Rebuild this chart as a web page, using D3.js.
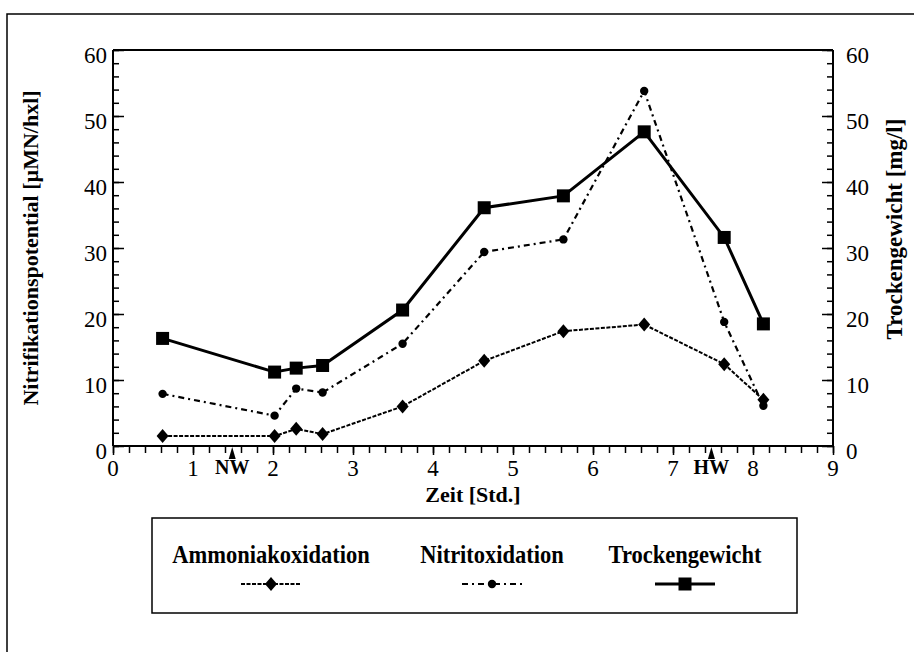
<!DOCTYPE html>
<html>
<head>
<meta charset="utf-8">
<script src="https://cdn.jsdelivr.net/npm/d3@7"></script>
<style>
  body { margin: 0; background: #fff; }
  svg { display: block; }
</style>
</head>
<body>
<svg id="chart" width="914" height="652"></svg>
<script>
// data
const zeit = [0.62, 2.02, 2.29, 2.62, 3.62, 4.64, 5.63, 6.64, 7.64, 8.13];
const ammoniak = [1.5, 1.5, 2.6, 1.8, 6.0, 12.9, 17.4, 18.4, 12.4, 7.0];
const nitrit = [7.9, 4.6, 8.7, 8.1, 15.5, 29.4, 31.3, 53.8, 18.8, 6.1];
const trocken = [16.3, 11.2, 11.8, 12.2, 20.6, 36.1, 37.9, 47.6, 31.6, 18.5];
const xTicks = [0, 1, 2, 3, 4, 5, 6, 7, 8, 9];
const yTicks = [0, 10, 20, 30, 40, 50, 60];
const marks = [{label: "NW", x: 1.49}, {label: "HW", x: 7.48}];
const seriesNames = ["Ammoniakoxidation", "Nitritoxidation", "Trockengewicht"];

const font = "'Liberation Serif', 'Times New Roman', serif";
const svg = d3.select("#chart");
const pLeft = 113, pRight = 833, pTop = 50, pBottom = 446;

let x = d3.scaleLinear().domain([0, 9]).range([pLeft, pRight]);
let yL = d3.scaleLinear().domain([0, 60]).range([pBottom, pTop]);
let yR = d3.scaleLinear().domain([0, 60]).range([pBottom, pTop]);

// outer frame
svg.append("path")
  .attr("d", "M7,652 L7,14 L914,14")
  .attr("fill", "none")
  .attr("stroke", "#000")
  .attr("stroke-width", 1.5);

// plot box top line
svg.append("line")
  .attr("x1", pLeft).attr("x2", pRight)
  .attr("y1", pTop).attr("y2", pTop)
  .attr("stroke", "#000").attr("stroke-width", 2);

// left axis, ticks inward
let gL = svg.append("g").attr("transform", "translate(" + pLeft + ",0)");
gL.call(d3.axisRight(yL).tickValues(d3.range(0, 61, 2)).tickSize(6).tickFormat(""))
  .call(g => g.select(".domain").remove());
gL.append("g").call(d3.axisRight(yL).tickValues(yTicks).tickSize(11).tickFormat(""))
  .call(g => g.select(".domain").remove());
gL.selectAll("line").attr("stroke-width", 1.5);
gL.append("line").attr("y1", pTop).attr("y2", pBottom).attr("stroke", "#000").attr("stroke-width", 2);
svg.append("g").selectAll("text")
  .data(yTicks)
  .enter()
  .append("text")
    .attr("x", pLeft - 6)
    .attr("y", d => yL(d) + 5)
    .attr("dy", "0.35em")
    .text(d => d)
    .style("text-anchor", "end")
    .style("font-size", 23)
    .style("font-family", font);

// right axis, ticks inward
let gR = svg.append("g").attr("transform", "translate(" + pRight + ",0)");
gR.call(d3.axisLeft(yR).tickValues(d3.range(0, 61, 2)).tickSize(6).tickFormat(""))
  .call(g => g.select(".domain").remove());
gR.append("g").call(d3.axisLeft(yR).tickValues(yTicks).tickSize(11).tickFormat(""))
  .call(g => g.select(".domain").remove());
gR.selectAll("line").attr("stroke-width", 1.5);
gR.append("line").attr("y1", pTop).attr("y2", pBottom).attr("stroke", "#000").attr("stroke-width", 2);
svg.append("g").selectAll("text")
  .data(yTicks)
  .enter()
  .append("text")
    .attr("x", pRight + 13)
    .attr("y", d => yR(d) + 5)
    .attr("dy", "0.35em")
    .text(d => d)
    .style("text-anchor", "start")
    .style("font-size", 23)
    .style("font-family", font);

// bottom axis, ticks outward
let gX = svg.append("g").attr("transform", "translate(0," + pBottom + ")");
gX.call(d3.axisBottom(x).tickValues(d3.range(0, 46).map(i => i / 5)).tickSize(7).tickFormat(""))
  .call(g => g.select(".domain").remove());
gX.append("g").call(d3.axisBottom(x).tickValues(xTicks).tickSize(9).tickFormat(""))
  .call(g => g.select(".domain").remove());
gX.selectAll("line").attr("stroke-width", 1.5);
gX.append("line").attr("x1", pLeft).attr("x2", pRight).attr("stroke", "#000").attr("stroke-width", 2);
svg.append("g").selectAll("text")
  .data(xTicks)
  .enter()
  .append("text")
    .attr("x", d => x(d))
    .attr("y", pBottom + 30)
    .text(d => d)
    .style("text-anchor", "middle")
    .style("font-size", 23)
    .style("font-family", font);

// NW / HW markers
let mk = svg.append("g").selectAll("g")
  .data(marks)
  .enter()
  .append("g")
    .attr("transform", d => "translate(" + x(d.x) + "," + pBottom + ")");
mk.append("path")
  .attr("d", "M0,1 L3.5,13 L-3.5,13 Z")
  .attr("fill", "#000");
mk.append("text")
  .attr("y", 28)
  .text(d => d.label)
  .style("text-anchor", "middle")
  .style("font-size", 20)
  .style("font-weight", "bold")
  .style("font-family", font);

// axis titles
svg.append("text")
  .attr("x", (pLeft + pRight) / 2)
  .attr("y", 502)
  .text("Zeit [Std.]")
  .style("text-anchor", "middle")
  .style("font-size", 22)
  .style("font-weight", "bold")
  .style("font-family", font);
svg.append("text")
  .attr("transform", "translate(38," + (pTop + pBottom) / 2 + ") rotate(-90)")
  .text("Nitrifikationspotential [µMN/hxl]")
  .style("text-anchor", "middle")
  .style("font-size", 22)
  .style("font-weight", "bold")
  .style("font-family", font);
svg.append("text")
  .attr("transform", "translate(902,229) rotate(-90)")
  .text("Trockengewicht [mg/l]")
  .style("text-anchor", "middle")
  .style("font-size", 23)
  .style("font-weight", "bold")
  .style("font-family", font);

// series
const styles = [
  {values: ammoniak, scale: yL, dash: "4,1.5", width: 2, symbol: "diamond"},
  {values: nitrit, scale: yL, dash: "6,4,2,4", width: 2.2, symbol: "circle"},
  {values: trocken, scale: yR, dash: null, width: 3, symbol: "square"}
];

function drawSymbol(sel, type) {
  if (type === "diamond") {
    sel.append("path").attr("d", "M0,-7 L6,0 L0,7 L-6,0 Z").attr("fill", "#000");
  } else if (type === "circle") {
    sel.append("circle").attr("r", 4.2).attr("fill", "#000");
  } else {
    sel.append("rect").attr("x", -6.5).attr("y", -6.5).attr("width", 13).attr("height", 13).attr("fill", "#000");
  }
}

styles.forEach(s => {
  let line = d3.line()
    .x((d, i) => x(zeit[i]))
    .y(d => s.scale(d));
  svg.append("path")
    .datum(s.values)
    .attr("d", line)
    .attr("fill", "none")
    .attr("stroke", "#000")
    .attr("stroke-width", s.width)
    .attr("stroke-dasharray", s.dash);
  svg.append("g").selectAll("g")
    .data(s.values)
    .enter()
    .append("g")
      .attr("transform", (d, i) => "translate(" + x(zeit[i]) + "," + s.scale(d) + ")")
      .each(function() { drawSymbol(d3.select(this), s.symbol); });
});

// legend
const lgX = 152, lgY = 518, lgW = 645, lgH = 95;
svg.append("rect")
  .attr("x", lgX).attr("y", lgY)
  .attr("width", lgW).attr("height", lgH)
  .attr("fill", "none")
  .attr("stroke", "#000")
  .attr("stroke-width", 1.5);
const lgCenters = [271, 492, 685];
let lg = svg.append("g").selectAll("g")
  .data(seriesNames)
  .enter()
  .append("g")
    .attr("transform", (d, i) => "translate(" + lgCenters[i] + ",0)");
// the printed legend face is a tall, narrow bold serif
lg.append("text")
  .attr("transform", "translate(0,563) scale(0.9,1)")
  .text(d => d)
  .style("text-anchor", "middle")
  .style("font-size", 25)
  .style("font-weight", "bold")
  .style("font-family", font);
lg.append("line")
  .attr("x1", -30).attr("x2", 30)
  .attr("y1", 584).attr("y2", 584)
  .attr("stroke", "#000")
  .attr("stroke-width", (d, i) => styles[i].width)
  .attr("stroke-dasharray", (d, i) => styles[i].dash);
lg.append("g")
  .attr("transform", "translate(0,584)")
  .each(function(d, i) { drawSymbol(d3.select(this), styles[i].symbol); });
</script>
</body>
</html>
